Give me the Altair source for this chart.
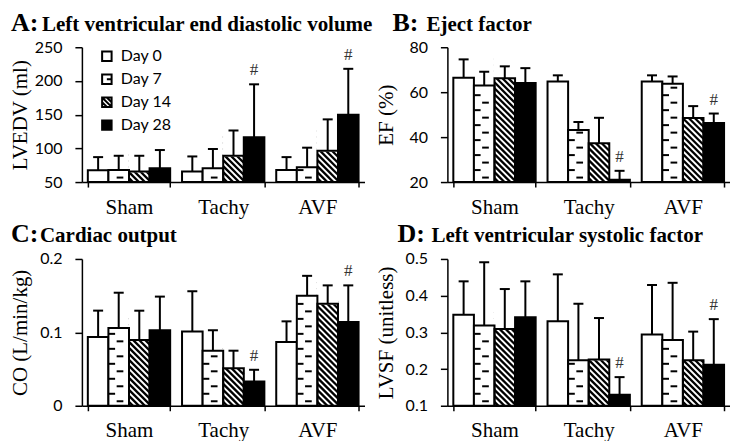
import altair as alt
import pandas as pd

# ---------------- data ----------------
groups = ["Sham", "Tachy", "AVF"]
days = ["Day 0", "Day 7", "Day 14", "Day 28"]

# values ordered Sham(D0,D7,D14,D28), Tachy(...), AVF(...)
lvedv_mean = [67.5, 68, 65.5, 70.5, 65.5, 70.5, 89, 116.5, 68, 72, 96.5, 150]
lvedv_sd = [19.5, 21, 23.5, 27, 22.5, 28.5, 37.5, 78.5, 19, 29, 46.5, 68]
ef_mean = [66.4, 63, 66.2, 64.1, 64.8, 43.2, 37.3, 21, 64.8, 63.7, 48.5, 46.3]
ef_sd = [8.2, 6.1, 5.3, 6.6, 2.7, 3.5, 11.3, 4, 2.7, 3.3, 5.3, 4.2]
co_mean = [0.0936, 0.106, 0.0895, 0.1027, 0.101, 0.075, 0.051, 0.033, 0.087, 0.150, 0.139, 0.114]
co_sd = [0.036, 0.048, 0.040, 0.046, 0.055, 0.028, 0.024, 0.016, 0.028, 0.027, 0.025, 0.050]
lvsf_mean = [0.348, 0.319, 0.309, 0.341, 0.33, 0.224, 0.226, 0.13, 0.294, 0.279, 0.224, 0.212]
lvsf_sd = [0.091, 0.172, 0.109, 0.098, 0.128, 0.154, 0.113, 0.048, 0.135, 0.156, 0.078, 0.124]
significant = [False, False, False, False, False, False, False, True, False, False, False, True]

panel_letters = ["A:", "B:", "C:", "D:"]
panel_titles = ["Left ventricular end diastolic volume", "Eject factor",
                "Cardiac output", "Left ventricular systolic factor"]
y_titles = ["LVEDV (ml)", "EF (%)", "CO (L/min/kg)", "LVSF (unitless)"]
y_domains = [[50, 250], [20, 80], [0, 0.2], [0.1, 0.5]]
y_ticks = [[50, 100, 150, 200, 250], [20, 40, 60, 80], [0, 0.1, 0.2], [0.1, 0.2, 0.3, 0.4, 0.5]]

# ---------------- styling ----------------
SERIF = "Liberation Serif"
SANS = "Lato"
PLOT_W = 283
TOP_H = 135
BOT_H = 147
P_INNER = 0.126
BAR_W = PLOT_W / 3 * (1 - P_INNER) / 4
R = BAR_W / 2
STRIPE_PERIOD = 6.0
DASH_ROW = 7.5

legend_paths = [
    "M-1,-1H1V1H-1Z",
    "M-1,-1H1V1H-1Z M0,0H1",
    "M-1,-1H1V1H-1Z M0,-1L1,0 M-1,-1L1,1 M-1,0L0,1",
    "M-1,-1H1V1H-1Z",
]
legend_fills = ["white", "white", "white", "black"]
bar_fills = ["white", "white", "transparent", "black"]


def frame(mean, sd):
    rows = []
    for gi, g in enumerate(groups):
        for di, d in enumerate(days):
            i = gi * 4 + di
            rows.append({"Group": g, "Day": d, "Value": mean[i], "SD": sd[i],
                         "Sig": significant[i]})
    return pd.DataFrame(rows)


def panel(df, idx, height, letter_x, name_x, title_y, legend=False):
    lo, hi = y_domains[idx]
    k = height / (hi - lo)
    x_axis = alt.Axis(title=None, labelAngle=0, labelFont=SERIF, labelFontSize=21,
                      labelColor="black", labelPadding=9, tickSize=5, tickBand="extent",
                      tickColor="black", tickWidth=1.5, domainColor="black", domainWidth=1.5)
    x = alt.X("Group:N", sort=groups,
              scale=alt.Scale(domain=groups, paddingInner=P_INNER, paddingOuter=P_INNER / 2),
              axis=x_axis)
    xo = alt.XOffset("Day:N", sort=days,
                     scale=alt.Scale(domain=days, paddingInner=0, paddingOuter=0))
    y_axis = alt.Axis(values=y_ticks[idx], labelExpr="'' + datum.value", title=y_titles[idx],
                      titleFont=SERIF, titleFontSize=21, titleFontWeight="normal",
                      titleColor="black", titleAngle=-90, titleX=-61, titleY=height / 2,
                      titleBaseline="middle", titleAlign="center",
                      labelFont=SANS, labelFontSize=16, labelColor="black", labelPadding=13,
                      tickSize=7, tickColor="black", tickWidth=1.5,
                      domainColor="black", domainWidth=1.5, grid=False)
    ys = alt.Scale(domain=[lo, hi], zero=False, nice=False)

    def Y(field):
        return alt.Y(field, scale=ys, axis=y_axis)

    base = alt.Chart(df)
    layers = []

    # Day 14 diagonal hatching (clipped to plot, covered above bar top)
    stripes = base.transform_filter(alt.datum.Day == "Day 14").transform_calculate(
        s=f"sequence({lo - 1.2 * R / k}, datum.Value + {1.2 * R / k}, {STRIPE_PERIOD / k})"
    ).transform_flatten(["s"]).mark_point(
        shape="M-1,-1L1,1", size=(2 * R) ** 2, stroke="black", strokeWidth=2.3,
        filled=False, opacity=1, clip=True
    ).encode(x=x, xOffset=xo, y=Y("s:Q"))
    layers.append(stripes)
    cover = base.transform_filter(alt.datum.Day == "Day 14").mark_bar(
        fill="white", stroke="white", strokeWidth=1.5
    ).encode(x=x, xOffset=xo, y=Y("Value:Q"), y2=alt.datum(hi))
    layers.append(cover)

    for d, f in zip(days, bar_fills):
        layers.append(base.transform_filter(alt.datum.Day == d).mark_bar(
            fill=f, stroke="black", strokeWidth=2
        ).encode(x=x, xOffset=xo, y=Y("Value:Q"), y2=alt.datum(lo)))

    # Day 7 dashed pattern
    for off, path in [(4.5, "M-0.2,0H0.45"), (4.5 + DASH_ROW, "M-0.95,0H-0.35")]:
        layers.append(base.transform_filter(alt.datum.Day == "Day 7").transform_calculate(
            s=f"sequence({lo + off / k}, datum.Value - {2.5 / k}, {2 * DASH_ROW / k})"
        ).transform_flatten(["s"]).mark_point(
            shape=path, size=(2 * R) ** 2, stroke="black", strokeWidth=2,
            filled=False, opacity=1
        ).encode(x=x, xOffset=xo, y=Y("s:Q")))

    err = base.transform_calculate(top="datum.Value + datum.SD")
    layers.append(err.mark_rule(stroke="black", strokeWidth=2).encode(
        x=x, xOffset=xo, y=Y("Value:Q"), y2="top:Q"))
    layers.append(err.mark_tick(color="black", thickness=2, size=10, orient="horizontal",
                                opacity=1).encode(x=x, xOffset=xo, y=Y("top:Q")))
    layers.append(err.transform_filter(alt.datum.Sig).mark_text(
        text="#", font=SERIF, fontSize=17, color="#333333", baseline="bottom", dy=-5
    ).encode(x=x, xOffset=xo, y=Y("top:Q")))

    t1 = alt.Chart(pd.DataFrame({"t": [panel_letters[idx]]})).mark_text(
        font=SERIF, fontSize=26, fontWeight="bold", align="left", baseline="alphabetic",
        color="black"
    ).encode(x=alt.value(letter_x), y=alt.value(title_y), text="t:N")
    t2 = alt.Chart(pd.DataFrame({"t": [panel_titles[idx]]})).mark_text(
        font=SERIF, fontSize=21, fontWeight="bold", align="left", baseline="alphabetic",
        color="black"
    ).encode(x=alt.value(name_x), y=alt.value(title_y), text="t:N")
    layers += [t1, t2]

    if legend:
        leg = dict(orient="none", legendX=17, legendY=1, title=None, labelFont=SANS,
                   labelFontSize=16, labelColor="black", symbolSize=90,
                   symbolStrokeWidth=2, rowPadding=5, labelOffset=6, padding=0)
        layers.append(base.transform_filter("false").mark_point(
            filled=True, strokeWidth=2, opacity=1
        ).encode(
            shape=alt.Shape("Day:N", scale=alt.Scale(domain=days, range=legend_paths),
                            legend=alt.Legend(**leg)),
            fill=alt.Fill("Day:N", scale=alt.Scale(domain=days, range=legend_fills),
                          legend=alt.Legend(**leg)),
            stroke=alt.Stroke("Day:N", scale=alt.Scale(domain=days, range=["black"] * 4),
                              legend=alt.Legend(**leg)),
        ))

    return alt.layer(*layers).properties(width=PLOT_W, height=height)


pA = panel(frame(lvedv_mean, lvedv_sd), 0, TOP_H, -71, -40, -16, legend=True)
pB = panel(frame(ef_mean, ef_sd), 1, TOP_H, -55, -21, -16)
pC = panel(frame(co_mean, co_sd), 2, BOT_H, -71, -42, -17)
pD = panel(frame(lvsf_mean, lvsf_sd), 3, BOT_H, -50, -16, -17)

chart = alt.concat(
    pA, pB, pC, pD, columns=2, spacing={"row": 77, "column": 83}, bounds="flush"
).resolve_scale(
    fill="independent", shape="independent", stroke="independent"
).properties(
    padding={"left": 2, "top": 2, "right": 0, "bottom": 0}, background="white"
).configure_view(stroke=None)

chart.save("out.html", embed_options={"renderer": "svg", "actions": False})
